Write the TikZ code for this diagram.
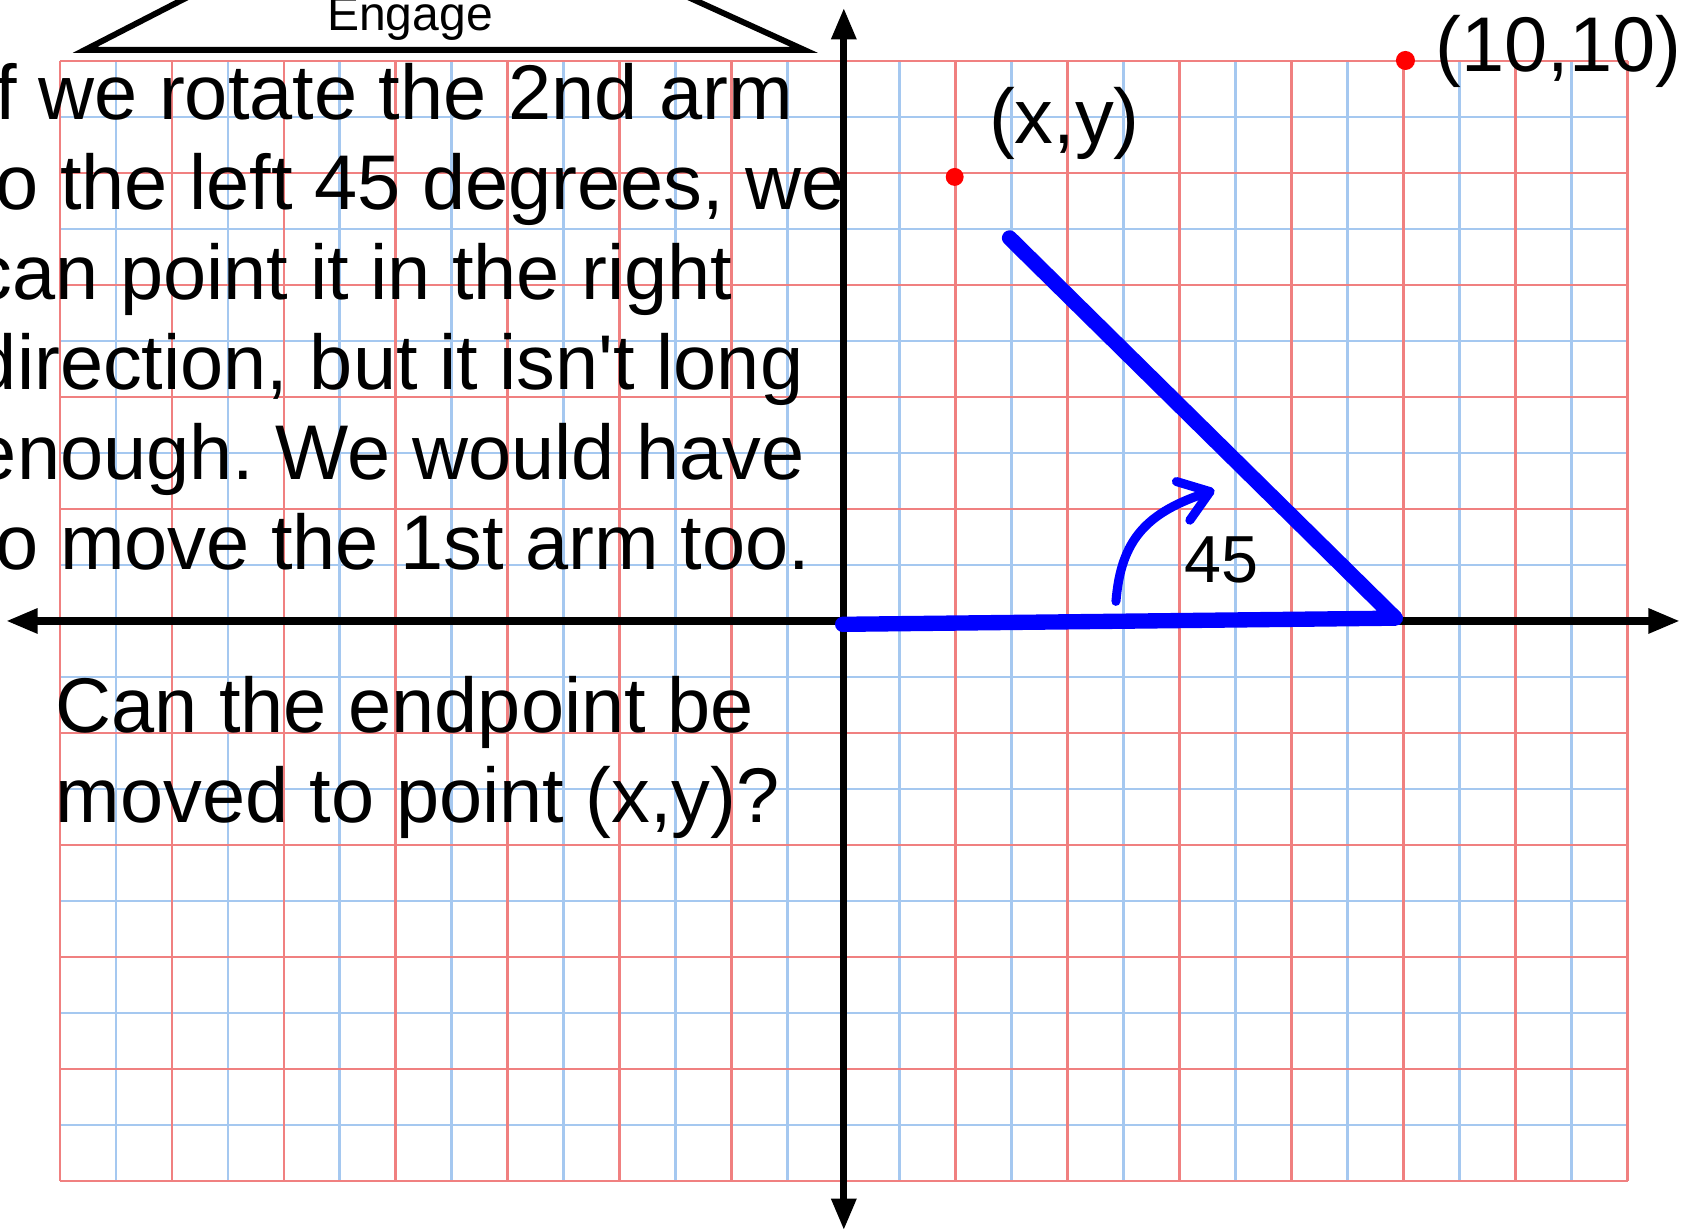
\documentclass[tikz,border=0pt]{standalone}
\usepackage{fontspec}
\setmainfont{Liberation Sans}
\usetikzlibrary{arrows.meta}
\definecolor{gridred}{RGB}{240,128,128}
\definecolor{gridblue}{RGB}{165,200,240}
\frenchspacing

\begin{document}
\begin{tikzpicture}[x=0.5cm,y=0.5cm,>={Triangle[length=8pt,width=6pt]},
    txt/.style={anchor=base west,inner sep=0pt,font=\fontsize{19.7}{22.9}\selectfont},
    arm/.style={blue,line width=3.9pt,line cap=round,line join=round}]
  \useasboundingbox (-15.07,-10.91) rectangle (15.04,11.09);
  \clip (-15.07,-10.91) rectangle (15.04,11.09);
  % graph paper
  \draw[gridblue,line width=0.7pt,step=1] (-14,-10) grid (14,10);
  \draw[gridred,line width=0.7pt,step=2] (-14,-10) grid (14,10);
  % axes
  \draw[<->,line width=1.8pt] (-14.96,0)--(14.93,0);
  \draw[<->,line width=1.8pt] (0,-10.88)--(0,10.95);
  % heading
  \draw[line width=1.5pt] (-11.41,11.3)--(-13.55,10.2)--(-0.71,10.2)--(-3.13,11.3);
  \node[txt,font=\fontsize{12.2}{14}\selectfont] (engage) at (-9.24,10.54) {Engage};
  % text
  \foreach \row [count=\i from 0] in {If we rotate the 2nd arm,{to the left 45 degrees, we},
      can point it in the right,{direction, but it isn\textquotesingle t long},
      enough. We would have,to move the 1st arm too.}
    \node[txt] (say\i) at (-15.55,8.95-1.607*\i) {\row};
  \node[txt] (ask1) at (-14.09,-2.0) {Can the endpoint be};
  \node[txt] (ask2) at (-14.09,-3.607) {moved to point (x,y)?};
  % the two arms
  \coordinate (O) at (-0.02,-0.06);
  \coordinate (J) at (9.85,0.05);
  \coordinate (E) at (2.96,6.84);
  \draw[arm] (O)--(J)--(E);
  % turn by 45
  \coordinate (S) at (4.86,0.35);
  \coordinate (T) at (6.54,2.31);
  \draw[blue,line width=2.3pt,line cap=round] (S) .. controls (4.95,1.45) and (5.4,1.95) .. (T);
  \draw[blue,line width=2.3pt,line cap=round,line join=round] (5.94,2.49)--(T)--(6.18,1.8);
  \node[txt,font=\fontsize{16.9}{19}\selectfont] (ang) at (6.07,0.68) {45};
  % points
  \coordinate (P) at (1.98,7.93);
  \coordinate (Q) at (10.03,10.01);
  \fill[red] (P) circle(0.16);
  \fill[red] (Q) circle(0.17);
  \node[txt] (xy) at (2.58,8.52) {(x,y)};
  \node[txt] (ten) at (10.56,9.82) {(10,10)};
\end{tikzpicture}
\end{document}
